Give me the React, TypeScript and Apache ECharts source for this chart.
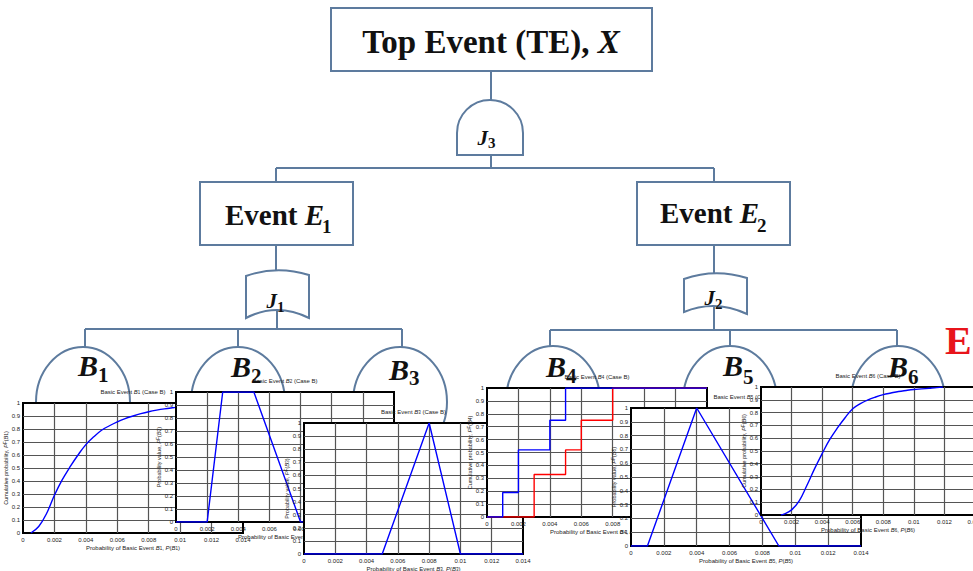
import React, { useEffect, useRef } from 'react';
import * as echarts from 'echarts';

// ---------------- data ----------------
const xMin = 0;
const xMax = 0.014;
const xStep = 0.002;
const yMin = 0;
const yMax = 1;
const yStep = 0.1;

const eventIds = ['1', '2', '3', '4', '5', '6'];
const yNames = [
  'Cumulative probability',
  'Probability value',
  'Probability value',
  'Cumulative probability',
  'Probability value',
  'Cumulative probability',
];

// B1: cumulative curve
const b1Values: number[][] = [
  [0.0005, 0], [0.001, 0.05], [0.0015, 0.15], [0.002, 0.29], [0.0025, 0.41],
  [0.003, 0.51], [0.0035, 0.6], [0.004, 0.68], [0.0045, 0.74], [0.005, 0.79],
  [0.0055, 0.825], [0.006, 0.855], [0.0065, 0.88], [0.007, 0.9], [0.0075, 0.918],
  [0.008, 0.933], [0.0085, 0.945], [0.009, 0.955], [0.0095, 0.963], [0.01, 0.97],
  [0.011, 0.98], [0.012, 0.987], [0.013, 0.991], [0.014, 0.994],
];
// B2: trapezoid
const b2Values: number[][] = [
  [0, 0], [0.002, 0], [0.003, 1], [0.005, 1], [0.008, 0], [0.014, 0],
];
// B3: triangle
const b3Values: number[][] = [
  [0, 0], [0.005, 0], [0.008, 1], [0.01, 0], [0.014, 0],
];
// B4: step functions (blue upper, red lower)
const b4UpperValues: number[][] = [
  [0, 0], [0.001, 0], [0.001, 0.19], [0.002, 0.19], [0.002, 0.52], [0.004, 0.52],
  [0.004, 0.75], [0.005, 0.75], [0.005, 1], [0.014, 1],
];
const b4LowerValues: number[][] = [
  [0, 0], [0.003, 0], [0.003, 0.33], [0.005, 0.33], [0.005, 0.52], [0.006, 0.52],
  [0.006, 0.75], [0.008, 0.75], [0.008, 1], [0.014, 1],
];
// B5: triangle
const b5Values: number[][] = [
  [0, 0], [0.001, 0], [0.004, 1], [0.009, 0], [0.014, 0],
];
// B6: cumulative curve
const b6Values: number[][] = [
  [0.0013, 0], [0.0015, 0.006], [0.002, 0.04], [0.0025, 0.11], [0.003, 0.23],
  [0.0035, 0.36], [0.004, 0.48], [0.0045, 0.59], [0.005, 0.68], [0.0055, 0.76],
  [0.006, 0.83], [0.0065, 0.87], [0.007, 0.9], [0.0075, 0.922], [0.008, 0.94],
  [0.0085, 0.953], [0.009, 0.965], [0.0095, 0.973], [0.01, 0.98], [0.0105, 0.985],
  [0.011, 0.99], [0.0115, 0.995], [0.0119, 1],
];

// ---------------- layout / style ----------------
const BLUE = '#0000ff';
const RED = '#ff0000';
const STROKE = '#5d7b9e';
const GRIDLINE = '#555';
const SANS = 'Liberation Sans';
const SERIF = 'Liberation Serif';

const chartLayout = [
  { left: 23, top: 403, width: 220, height: 130 },
  { left: 176, top: 392, width: 218, height: 130 },
  { left: 304, top: 423, width: 219, height: 131 },
  { left: 487, top: 388, width: 220, height: 129 },
  { left: 631, top: 408, width: 230, height: 138 },
  { left: 761, top: 387, width: 214, height: 128 },
];

const chartSeries = [
  [{ data: b1Values, color: BLUE, smooth: true }],
  [{ data: b2Values, color: BLUE, smooth: false }],
  [{ data: b3Values, color: BLUE, smooth: false }],
  [
    { data: b4LowerValues, color: RED, smooth: false },
    { data: b4UpperValues, color: BLUE, smooth: false },
  ],
  [{ data: b5Values, color: BLUE, smooth: false }],
  [{ data: b6Values, color: BLUE, smooth: true }],
];

// gate outlines
echarts.graphic.registerShape(
  'andGateJ3',
  echarts.graphic.extendPath('M457 155 L457 133 A33 33 0 0 1 523 133 L523 155 Z', {})
);
echarts.graphic.registerShape(
  'orGateJ1',
  echarts.graphic.extendPath('M246 276 Q277 265 309 275 L309 318 Q277 302 246 318 Z', {})
);
echarts.graphic.registerShape(
  'orGateJ2',
  echarts.graphic.extendPath('M684 279 Q715 268 747 278 L747 314 Q715 299 684 312 Z', {})
);

const smallRich = {
  i: { fontStyle: 'italic', fontSize: 6, color: '#222', fontFamily: SANS },
  s: { fontSize: 4.5, color: '#222', fontFamily: SANS, verticalAlign: 'bottom' },
  p: { fontSize: 4.5, color: '#222', fontFamily: SANS, verticalAlign: 'top' },
};

function buildTree(): any[] {
  const els: any[] = [];
  const boxes = [
    [331, 8, 321, 63],
    [200, 182, 153, 63],
    [637, 182, 153, 63],
  ];
  const links = [
    [491, 71, 491, 100],
    [491, 155, 491, 168],
    [276, 168, 714, 168],
    [276, 168, 276, 182],
    [714, 168, 714, 182],
    [276, 245, 276, 274],
    [714, 245, 714, 276],
    [277, 306, 277, 329],
    [714, 302, 714, 330],
    [85, 329, 402, 329],
    [85, 329, 85, 348],
    [238, 329, 238, 348],
    [402, 329, 402, 348],
    [550, 330, 897, 330],
    [550, 330, 550, 347],
    [730, 330, 730, 347],
    [897, 330, 897, 347],
  ];
  const ovals = [
    [83, 402, 47, 55],
    [238, 402, 47, 55],
    [400, 402, 47, 55],
    [553, 401, 47, 55],
    [730, 401, 47, 55],
    [898, 401, 47, 55],
  ];
  links.forEach(([x1, y1, x2, y2]) =>
    els.push({ type: 'line', z: 1, silent: true, shape: { x1, y1, x2, y2 }, style: { stroke: STROKE, lineWidth: 2 } })
  );
  boxes.forEach(([x, y, width, height]) =>
    els.push({ type: 'rect', z: 2, silent: true, shape: { x, y, width, height }, style: { fill: '#fff', stroke: STROKE, lineWidth: 2 } })
  );
  ovals.forEach(([cx, cy, rx, ry]) =>
    els.push({ type: 'ellipse', z: 2, silent: true, shape: { cx, cy, rx, ry }, style: { fill: '#fff', stroke: STROKE, lineWidth: 2 } })
  );
  ['andGateJ3', 'orGateJ1', 'orGateJ2'].forEach((t) =>
    els.push({ type: t, z: 3, silent: true, x: 0, y: 0, style: { fill: '#fff', stroke: STROKE, lineWidth: 2 } })
  );

  // top event text
  els.push({
    type: 'text', z: 5, silent: true, x: 491, y: 42,
    style: {
      text: '{b|Top Event (TE), }{bi|X}',
      align: 'center', verticalAlign: 'middle',
      rich: {
        b: { fontFamily: SERIF, fontWeight: 'bold', fontSize: 33, fill: '#111' },
        bi: { fontFamily: SERIF, fontWeight: 'bold', fontStyle: 'italic', fontSize: 33, fill: '#111' },
      },
    },
  });

  // labels: [main text, x junction, y, size, sub, subY, subSize]
  const eventLabels: [string, number, number, number, string, number, number][] = [
    ['E', 324, 215, 29, '1', 226, 19],
    ['E', 759, 213, 29, '2', 225, 19],
  ];
  eventLabels.forEach(([m, x, y, fs, s, sy, sfs]) => {
    els.push({
      type: 'text', z: 5, silent: true, x, y,
      style: {
        text: '{b|Event }{bi|' + m + '}', align: 'right', verticalAlign: 'middle',
        rich: {
          b: { fontFamily: SERIF, fontWeight: 'bold', fontSize: fs, fill: '#111' },
          bi: { fontFamily: SERIF, fontWeight: 'bold', fontStyle: 'italic', fontSize: fs, fill: '#111' },
        },
      },
    });
    els.push({
      type: 'text', z: 5, silent: true, x: x - 2, y: sy,
      style: { text: s, fontFamily: SERIF, fontWeight: 'bold', fontSize: sfs, fill: '#111', align: 'left', verticalAlign: 'middle' },
    });
  });

  const symLabels: [string, number, number, number, string, number, number][] = [
    ['J', 488, 138, 21, '3', 143, 15],
    ['J', 277, 301, 21, '1', 307, 15],
    ['J', 715, 298, 21, '2', 304, 15],
    ['B', 98, 365, 30, '1', 375, 21],
    ['B', 251, 366, 30, '2', 376, 21],
    ['B', 409, 369, 30, '3', 378, 21],
    ['B', 566, 366, 30, '4', 376, 21],
    ['B', 743, 365, 30, '5', 377, 21],
    ['B', 908, 366, 30, '6', 377, 21],
  ];
  symLabels.forEach(([m, x, y, fs, s, sy, sfs]) => {
    els.push({
      type: 'text', z: 200, silent: true, x, y,
      style: { text: m, fontFamily: SERIF, fontWeight: 'bold', fontStyle: 'italic', fontSize: fs, fill: '#111', align: 'right', verticalAlign: 'middle' },
    });
    els.push({
      type: 'text', z: 200, silent: true, x: x, y: sy,
      style: { text: s, fontFamily: SERIF, fontWeight: 'bold', fontSize: sfs, fill: '#111', align: 'left', verticalAlign: 'middle' },
    });
  });

  els.push({
    type: 'text', z: 200, silent: true, x: 945, y: 340,
    style: { text: 'E', fontFamily: SERIF, fontWeight: 'bold', fontSize: 40, fill: '#e8141b', align: 'left', verticalAlign: 'middle' },
  });
  return els;
}

function buildOption(): any {
  const grid: any[] = [];
  const xAxis: any[] = [];
  const yAxis: any[] = [];
  const series: any[] = [];
  const title: any[] = [];

  chartLayout.forEach((g, k) => {
    const base = 10 + k * 10;
    const id = eventIds[k];
    grid.push({
      left: g.left, top: g.top, width: g.width, height: g.height,
      show: true, backgroundColor: '#fff', borderColor: '#000', borderWidth: 2,
      containLabel: false, outerBoundsMode: 'none', z: base,
    });
    title.push({
      text: 'Basic Event {i|B}{s|' + id + '} (Case B)',
      left: g.left + g.width / 2, top: g.top - 14, textAlign: 'center', padding: 0,
      z: base + 3,
      textStyle: { fontSize: 6, fontWeight: 'normal', color: '#222', fontFamily: SANS, rich: smallRich },
    });
    xAxis.push({
      gridIndex: k, type: 'value', min: xMin, max: xMax, interval: xStep, z: base + 1,
      axisLine: { show: false }, axisTick: { show: false },
      splitLine: { show: true, showMinLine: false, showMaxLine: false, lineStyle: { color: GRIDLINE, width: 1.2 } },
      axisLabel: {
        fontSize: 6, color: '#222', margin: 4, fontFamily: SANS,
        formatter: (v: number) => (v === 0 ? '0' : String(Math.round(v * 1000) / 1000)),
      },
      name: 'Probability of Basic Event {i|B}{s|' + id + '}, {i|P}({i|B}{s|' + id + '})',
      nameLocation: 'middle', nameGap: 12, nameMoveOverlap: false,
      nameTextStyle: { fontSize: 6, color: '#222', fontFamily: SANS, rich: smallRich },
    });
    yAxis.push({
      gridIndex: k, type: 'value', min: yMin, max: yMax, interval: yStep, z: base + 1,
      axisLine: { show: false }, axisTick: { show: false },
      splitLine: { show: true, showMinLine: false, showMaxLine: false, lineStyle: { color: GRIDLINE, width: 1.2 } },
      axisLabel: {
        fontSize: 6, color: '#222', margin: 3, fontFamily: SANS,
        formatter: (v: number) => String(Math.round(v * 10) / 10),
      },
      name: yNames[k] + ', {i|P}{p|F}({i|B}{s|' + id + '})',
      nameLocation: 'middle', nameGap: 14, nameMoveOverlap: false,
      nameTextStyle: { fontSize: 5.5, color: '#222', fontFamily: SANS, rich: smallRich },
    });
    chartSeries[k].forEach((s) => {
      series.push({
        type: 'line', xAxisIndex: k, yAxisIndex: k, data: s.data, z: base + 2,
        showSymbol: false, symbol: 'none', smooth: s.smooth ? 0.4 : false,
        silent: true, clip: true,
        lineStyle: { color: s.color, width: 1.4 }, itemStyle: { color: s.color },
      });
    });
  });

  return {
    animation: false,
    backgroundColor: '#fff',
    textStyle: { fontFamily: SANS },
    title,
    grid,
    xAxis,
    yAxis,
    series,
    graphic: { elements: buildTree() },
  };
}

export default function App() {
  const ref = useRef<HTMLDivElement>(null);
  useEffect(() => {
    document.body.style.margin = '0';
    const chart = echarts.init(ref.current as HTMLDivElement, null, { renderer: 'svg' });
    chart.setOption(buildOption());
    return () => chart.dispose();
  }, []);
  return <div ref={ref} style={{ width: 973, height: 571 }} />;
}
